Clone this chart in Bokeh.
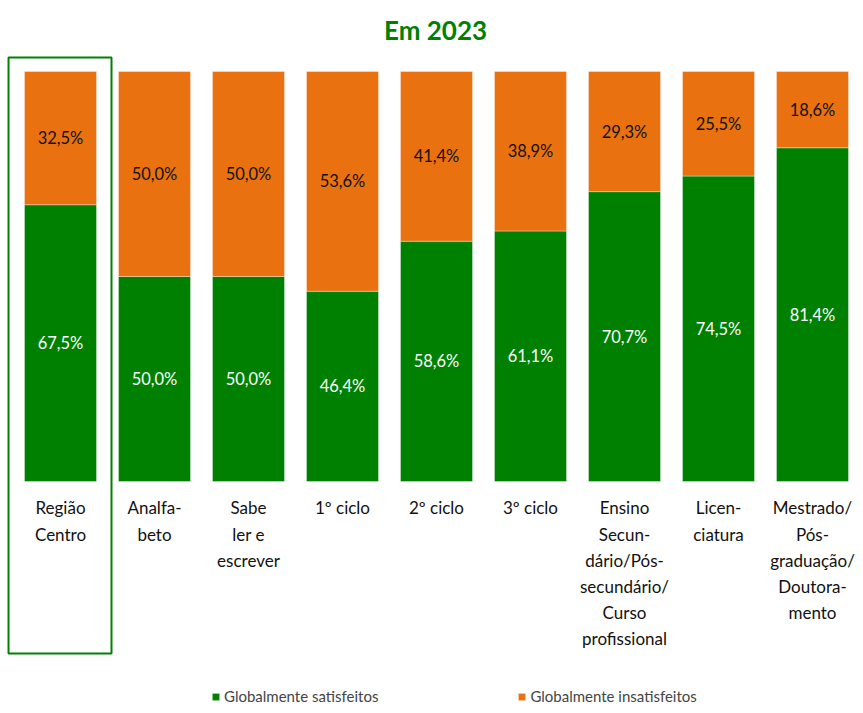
from bokeh.plotting import figure
from bokeh.models import Range1d, ColumnDataSource, Label, Legend, LegendItem
from bokeh.core.properties import value
from bokeh.embed import file_html
from bokeh.resources import INLINE

categories = ["Região\nCentro", "Analfa-\nbeto", "Sabe\nler e\nescrever", "1º ciclo", "2º ciclo",
              "3º ciclo", "Ensino\nSecun-\ndário/Pós-\nsecundário/\nCurso\nprofissional",
              "Licen-\nciatura", "Mestrado/\nPós-\ngraduação/\nDoutora-\nmento"]
satisfeitos = [67.5, 50.0, 50.0, 46.4, 58.6, 61.1, 70.7, 74.5, 81.4]
insatisfeitos = [32.5, 50.0, 50.0, 53.6, 41.4, 38.9, 29.3, 25.5, 18.6]
series_names = ["Globalmente satisfeitos", "Globalmente insatisfeitos"]
title_text = "Em 2023"

GREEN = "#008000"
ORANGE = "#E97110"
FONT = "Lato"

W, H = 855, 705
X0 = 60  # pixel centre of the first bar
p = figure(width=W, height=H, output_backend="svg", toolbar_location=None,
           min_border=0, x_range=Range1d(-X0/94, (W-X0)/94),
           y_range=Range1d(-(H-481)/4.1, 100 + 71/4.1))
p.axis.visible = False
p.grid.visible = False
p.outline_line_color = None

xs = list(range(len(categories)))
src = ColumnDataSource(dict(
    x=xs, sat=satisfeitos, ins=insatisfeitos,
    top2=[s + i for s, i in zip(satisfeitos, insatisfeitos)],
    sat_mid=[s / 2 for s in satisfeitos],
    ins_mid=[s + i / 2 for s, i in zip(satisfeitos, insatisfeitos)],
    sat_lbl=[f"{v:.1f}%".replace(".", ",") for v in satisfeitos],
    ins_lbl=[f"{v:.1f}%".replace(".", ",") for v in insatisfeitos],
    cat=categories,
    cat_y=[-3.9] * len(categories),
))

bw = 72 / 94
r1 = p.vbar(x="x", bottom=0, top="sat", width=bw, source=src, fill_color=GREEN,
            line_color="white", line_alpha=0.35, line_width=1)
r2 = p.vbar(x="x", bottom="sat", top="top2", width=bw, source=src, fill_color=ORANGE,
            line_color="white", line_alpha=0.35, line_width=1)

p.text(x="x", y="sat_mid", text="sat_lbl", source=src, text_color="white",
       text_font=value(FONT), text_font_size="16.5px", text_align="center", text_baseline="middle")
p.text(x="x", y="ins_mid", text="ins_lbl", source=src, text_color="#111111",
       text_font=value(FONT), text_font_size="16.5px", text_align="center", text_baseline="middle")

p.text(x="x", y="cat_y", text="cat", source=src, text_color="#111111",
       text_font=value(FONT), text_font_size="17px", text_align="center", text_baseline="top",
       text_line_height=1.24)

# highlight box around the region category
p.quad(left=[-0.553], right=[0.5426], top=[103.4], bottom=[-41.95],
       fill_color=None, line_color=GREEN, line_width=2)

p.add_layout(Label(x=435, y=H - 29, x_units="screen", y_units="screen", text=title_text,
                   text_font=FONT, text_font_size="26px", text_font_style="bold",
                   text_color=GREEN, text_align="center", text_baseline="middle"))

legend = Legend(items=[LegendItem(label=series_names[0], renderers=[r1]),
                       LegendItem(label=series_names[1], renderers=[r2])],
                orientation="horizontal", location=(211, 0),
                label_text_font=FONT, label_text_font_size="15px",
                glyph_width=9, glyph_height=9, label_standoff=4, spacing=139,
                padding=0, margin=0, background_fill_alpha=0, border_line_alpha=0,
                label_height=14)
p.add_layout(legend)

open("out.html", "w").write(file_html(p, INLINE))
